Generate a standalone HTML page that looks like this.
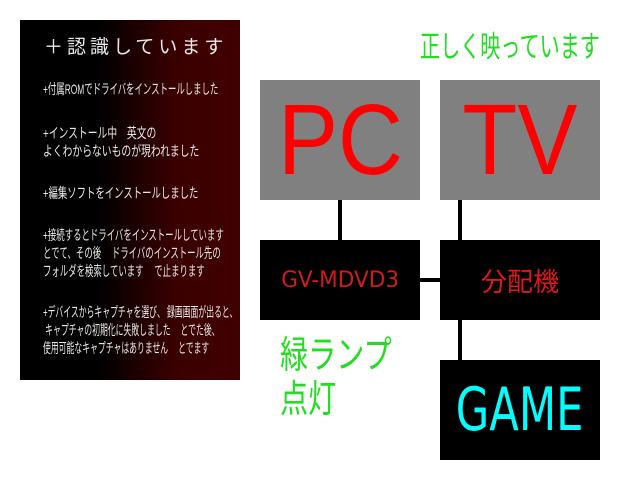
<!DOCTYPE html><html><head><meta charset="utf-8"><style>
body{margin:0;width:640px;height:480px;background:#fff;position:relative;overflow:hidden;font-family:"Liberation Sans","Noto Sans CJK JP",sans-serif}
div{position:absolute}
.panel{left:20px;top:20px;width:220px;height:360px;background:linear-gradient(to right,#000 0%,#000 35%,#3a0000 70%,#400000 100%)}
.t{color:#e8e8e8;white-space:nowrap;transform-origin:0 0;font-size:14px;line-height:18px}
.box{display:flex;align-items:center;justify-content:center}
.box span{display:inline-block}
.ln{background:#000}
</style></head><body>
<div class="panel"></div>
<div class="t" style="left:44px;top:39px;font-size:19px;letter-spacing:4px">＋認識しています</div>
<div class="t" style="left:43px;top:80px;transform:scaleX(0.6)">+付属ROMでドライバをインストールしました</div>
<div class="t" style="left:43px;top:124px;transform:scaleX(0.7)">+インストール中　英文の<br>よくわからないものが現われました</div>
<div class="t" style="left:43px;top:184px;transform:scaleX(0.67)">+編集ソフトをインストールしました</div>
<div class="t" style="left:43px;top:226px;transform:scaleX(0.6)">+接続するとドライバをインストールしています<br>とでて、その後　 ドライバのインストール先の<br>フォルダを検索しています　 で止まります</div>
<div class="t" style="left:43px;top:303px;transform:scaleX(0.56)">+デバイスからキャプチャを選び、 録画画面が出ると、<br>&nbsp;キャプチャの初期化に失敗しました　 とでた後、<br>使用可能なキャプチャはありません　 とでます</div>

<div class="ln" style="left:338px;top:198px;width:4px;height:44px"></div>
<div class="ln" style="left:458px;top:198px;width:4px;height:44px"></div>
<div class="ln" style="left:418px;top:278px;width:24px;height:4px"></div>
<div class="ln" style="left:458px;top:318px;width:4px;height:44px"></div>

<div class="box" style="left:260px;top:80px;width:160px;height:120px;background:#808080;color:#ff0000;font-size:100px"><span style="transform:scaleX(0.9)">PC</span></div>
<div class="box" style="left:440px;top:80px;width:160px;height:120px;background:#808080;color:#ff0000;font-size:100px"><span style="transform:scaleX(0.9)">TV</span></div>
<div class="box" style="left:260px;top:240px;width:160px;height:80px;background:#000;color:#d41a1a;font-family:'DejaVu Sans',sans-serif;font-size:22px"><span style="transform:scaleX(0.98)">GV-MDVD3</span></div>
<div class="box" style="left:440px;top:240px;width:160px;height:80px;background:#000;color:#e01818;font-size:26px">分配機</div>
<div class="box" style="left:440px;top:360px;width:160px;height:100px;background:#000;color:#00ffff;font-family:'DejaVu Sans',sans-serif;font-size:60px"><span style="transform:scaleX(0.72)">GAME</span></div>

<div style="left:420px;top:22px;color:#22dd22;font-size:30px;white-space:nowrap;transform-origin:0 0;transform:scaleX(0.67)">正しく映っています</div>
<div style="left:280px;top:334px;color:#22dd22;font-size:38px;line-height:44px;transform-origin:0 0;transform:scaleX(0.74)">緑ランプ<br>点灯</div>
</body></html>
